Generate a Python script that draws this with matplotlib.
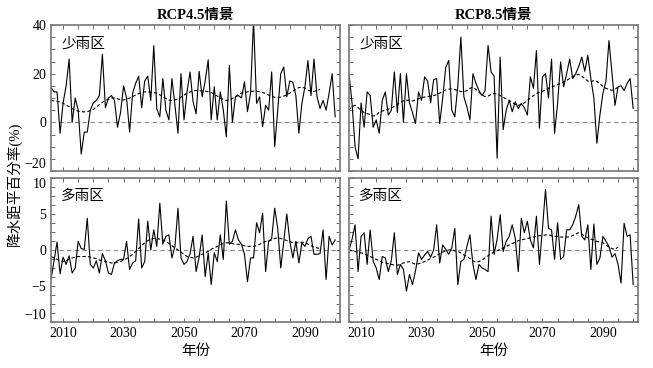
import numpy as np
import matplotlib.pyplot as plt
from matplotlib.ticker import MultipleLocator

plt.rcParams['font.family'] = ['Liberation Serif', 'Noto Sans CJK SC']

# 年份
years = list(range(2006, 2101))
years_smooth = list(range(2006, 2096))

# RCP4.5 少雨区
rcp45_dry = [14.5, 12.5, 12.5, -4.5, 8, 15, 26, 0, 10, 5,
             -13, -4, -4, 5, 8, 9, 11, 28, 6, 10,
             11, 9, -2, 4, 15, 10, -4, 12, 16, 19,
             6, 17, 19, 9, 31.5, 5.5, 2.3, 18, 5, 1,
             18, 7, -4.5, 20, 1, 12.5, 20.7, 8.5, 3.5, 21,
             10.5, 17, 25.7, 1, 14.6, 1, 12.5, 5, -6, 23.4,
             0, 10.5, 11, 10, 16.6, 4.4, 12, 42, 7.8, 10.5,
             -1.8, 7, 5, 20.7, -10, 5, 20, 22.7, 10.5, 17,
             16.5, 11, -4.5, 7.8, 14.6, 25.4, 11, 26, 10.5, 5.7,
             9, 5, 12, 20, 2.3]
rcp45_dry_s = [9, 8.8, 8.6, 8.4, 7.8, 7.1, 6.4, 5.6, 5, 4.6,
               4.4, 4.3, 4.4, 4.8, 5.3, 6.3, 7.3, 8.2, 9, 9.5,
               10, 10, 9.7, 9.3, 9.2, 9.5, 10, 10.6, 11.2, 11.8,
               12.3, 12.5, 12.5, 12.4, 12.2, 12, 11.3, 10.5, 9.8, 9.2,
               9, 9.2, 9.6, 10.3, 11.2, 12, 12.5, 12.9, 13.1, 13,
               12.9, 12.8, 12.6, 12.2, 11.6, 10.8, 10, 9.4, 9, 9.2,
               9.8, 10.6, 11.4, 12, 12.3, 12.5, 12.7, 12.8, 12.8, 12.6,
               12.3, 11.8, 11.2, 10.6, 10.3, 10.2, 10.4, 10.8, 11.3, 12,
               12.8, 13.6, 14.3, 14.5, 14, 13.2, 12.8, 12.7, 13.1, 13.5]

# RCP8.5 少雨区
rcp85_dry = [20, 8, -10, -15, 8, -2, 12.5, 11, -2, 1,
             -4.5, 9, 12.5, 3, 5, 20.7, 4, 20, 0, 20,
             8, 4, -0.5, 12.5, 9, 18.7, 17, 8, 17.5, 18,
             -0.5, 10, 22.7, 25.4, 5, 2.3, 15, 35, 10.5, 6.3,
             1, 20, 16, 13, 11, 13, 31.6, 20.7, 19, -14.7,
             26.8, -3, 5, 9, 4.4, 8.5, 5.7, 7.8, 6, 3,
             18.7, 14, 29.5, -2.4, 18.7, 20, 10, 26, -4.5, 7.8,
             24.8, 14.6, 20, 26, 18, 20, 23, 26.8, 21, 27.5,
             18, 10, -8.6, 3, 12, 17, 33.6, 20, 7, 14.6,
             15, 13, 16, 18, 5.7]
rcp85_dry_s = [5, 6.5, 7, 6, 5, 4, 3.6, 3.2, 2.6, 2.8,
               4.2, 4.6, 5, 5.4, 5.8, 6.6, 7.4, 8.2, 8.8, 9.1,
               9, 8.8, 9.2, 9.7, 10.1, 10.4, 10.6, 10.8, 11, 11.4,
               12, 12.8, 13.3, 13.6, 13.8, 13.5, 13, 12.7, 12.6, 13,
               14, 14.4, 13.5, 12.4, 11.2, 10.6, 10.8, 11.4, 11.8, 11.6,
               11, 10.3, 9.6, 9, 8.2, 7.4, 7, 7.3, 8, 9,
               10, 11, 11.8, 12.4, 12.8, 13.3, 14, 14.5, 15, 15.5,
               16, 16.6, 17.2, 18, 18.8, 19.5, 19.7, 19, 18, 17,
               16.6, 17.2, 16.8, 15.8, 14.8, 14, 13.5, 13.2, 13.6, 14.5]

# RCP4.5 多雨区
rcp45_wet = [-4.1, -1.5, 1.1, -3.3, -1, -2, -0.8, -3.2, -2.5, 1.2,
             0.2, 0.1, 4.4, -2, -2.5, -1.5, -3.2, -0.5, -1.5, -3.2,
             -3.4, -1.8, -1.5, -1.3, -1.3, 1.2, -2.7, -1.8, -1.5, 4.3,
             -2.5, -1.6, 4, 0, 2.8, 0.5, 6.5, 0.8, 1.9, 2.1,
             -1.1, 0.5, 5.8, -1.1, -2, -1.6, -0.5, 1.9, -3, -1,
             2.1, -3.7, -0.4, -4.8, -0.4, -1.6, 2.1, -1.3, 6.8, 0.8,
             1.2, 2.8, 1.4, 0.8, -0.6, -4.4, -1.1, -1.1, 3.8, 2.4,
             5.1, -3, 1.2, 1.6, 5.8, 3, -2.5, 1.2, 5, 1.2,
             -1.1, 1.2, -1.8, 1, 0.5, 1.6, 1.9, -0.6, -0.6, -0.5,
             2.8, -4.1, 1.9, 0.7, 1.4]
rcp45_wet_s = [-0.9, -1.1, -1.3, -1.5, -1.6, -1.5, -1.3, -1.1, -1.0, -0.9,
               -0.9, -0.9, -0.9, -1.0, -1.1, -1.2, -1.4, -1.5, -1.6, -1.7,
               -1.8, -1.8, -1.7, -1.6, -1.4, -1.2, -0.9, -0.6, -0.2, 0.2,
               0.6, 1.0, 1.3, 1.5, 1.6, 1.6, 1.5, 1.4, 1.2, 0.9,
               0.6, 0.3, 0.0, -0.3, -0.6, -0.9, -1.0, -1.1, -1.0, -0.8,
               -0.6, -0.4, -0.2, 0.1, 0.3, 0.5, 0.7, 0.9, 1.0, 1.0,
               0.9, 0.8, 0.8, 0.7, 0.6, 0.5, 0.5, 0.5, 0.6, 0.8,
               1.0, 1.2, 1.3, 1.4, 1.6, 1.7, 1.6, 1.5, 1.3, 1.2,
               1.0, 1.0, 1.0, 1.1, 1.0, 0.8, 0.6, 0.4, 0.3, 0.2]

# RCP8.5 多雨区
rcp85_wet = [0, 1.5, 3.5, -3, 1.9, 2.4, -2, 2.8, -1.6, -2.5,
             -4.1, -0.9, -1.1, -3, -1.5, 2.4, -3.4, -2, -2.7, -5.7,
             -3.4, -4.8, -2.9, -0.4, -1.3, -0.7, -0.2, -1, 0, 3.5,
             -1.8, 0.7, 0.1, -0.6, 0.3, 3, -4.8, -1.6, -1.3, 0.5,
             2.1, -2, -4.1, -2, -2.5, -2.7, -3, 4.7, -0.6, 1.5,
             4.9, -0.2, 1.2, 1.9, 3.5, 1.6, -3, 4.4, 2.4, 4,
             1.4, 0.3, 4.7, -2, 3, 8.4, 3, 2.8, -1.3, 3.8,
             -1.3, -0.9, 2.8, 2.8, 3.5, 4.7, 6.3, 1.9, 1.4, 3.5,
             -2.7, 3.6, -2, -1.1, 1.9, 1.2, 0.5, -1, -0.5, -2,
             -4.6, 3.7, 1.9, 2.1, -4.8]
rcp85_wet_s = [0, -0.1, -0.2, -0.3, -0.4, -0.5, -0.7, -0.9, -1.1, -1.3,
               -1.5, -1.7, -1.8, -1.9, -2.0, -2.1, -2.1, -2.0, -1.8, -1.7,
               -1.6, -1.8, -2.0, -1.9, -1.8, -1.6, -1.4, -1.2, -1.0, -0.8,
               -0.5, -0.3, -0.1, 0, 0, -0.1, -0.2, -0.4, -0.7, -0.9,
               -1.2, -1.5, -1.7, -1.6, -1.4, -1.1, -0.8, -0.5, -0.3, -0.1,
               0.1, 0.3, 0.5, 0.7, 0.9, 1.1, 1.3, 1.4, 1.5, 1.6,
               1.7, 1.8, 1.9, 2.0, 2.0, 2.1, 2.1, 2.0, 1.9, 1.9,
               1.8, 1.8, 1.8, 1.8, 2.0, 2.2, 2.4, 2.2, 1.9, 1.7,
               1.5, 1.4, 1.2, 1.1, 1.0, 0.7, 0.4, 0.2, 0.1, 0.4]

titles = ['RCP4.5情景', 'RCP8.5情景']
regions = ['少雨区', '多雨区']

fig = plt.figure(figsize=(6.53, 3.68), dpi=100)
W, H = 653, 368
lefts = [51, 349]
tops = [25, 178]
bottoms = [171, 322]
pw = 289

panels = [[(rcp45_dry, rcp45_dry_s), (rcp85_dry, rcp85_dry_s)],
          [(rcp45_wet, rcp45_wet_s), (rcp85_wet, rcp85_wet_s)]]
ylims = [(-20, 40), (-10, 10)]
ymajor = [20, 5]
yminor = [5, 1.25]

for r in range(2):
    for c in range(2):
        ax = fig.add_axes([lefts[c] / W, 1 - bottoms[r] / H,
                           pw / W, (bottoms[r] - tops[r]) / H])
        raw, smooth = panels[r][c]
        ax.axhline(0, color='#888888', lw=0.8, ls=(0, (4, 3)))
        ax.plot(years, raw, color='black', lw=0.8)
        ax.plot(years_smooth, smooth, color='black', lw=0.8, ls=(0, (3, 2)))
        ax.set_xlim(2006, 2101.6)
        ax.set_ylim(*ylims[r])
        ax.set_xticks(range(2010, 2100, 20))
        ax.xaxis.set_minor_locator(MultipleLocator(5))
        ax.yaxis.set_major_locator(MultipleLocator(ymajor[r]))
        ax.yaxis.set_minor_locator(MultipleLocator(yminor[r]))
        ax.tick_params(which='both', direction='in', top=True, right=True,
                       labelsize=10, length=3, width=0.6, color='#555555')
        for s in ax.spines.values():
            s.set_color('#777777')
            s.set_linewidth(1.2)
        if c == 1:
            ax.set_yticklabels([])
        if r == 0:
            ax.set_xticklabels([])
            ax.set_title(titles[c], fontsize=10.5, fontweight='bold', pad=4)
        else:
            ax.set_xlabel('年份', fontsize=10.5, labelpad=3)
        ax.text(0.035, 0.87, regions[r], transform=ax.transAxes,
                fontsize=10.5, va='center', ha='left')
        if c == 0:
            fig.canvas.draw()
            ticks = ax.get_yticks()
            for t, lb in zip(ticks, ax.get_yticklabels()):
                if t == ylims[r][0]:
                    lb.set_va('bottom')
                elif r == 1 and t == ylims[r][1]:
                    lb.set_va('top')

fig.text(14 / W, 0.5, '降水距平百分率(%)', rotation=90, va='center',
         ha='center', fontsize=10.5)

fig.savefig('out.png', dpi=100)
